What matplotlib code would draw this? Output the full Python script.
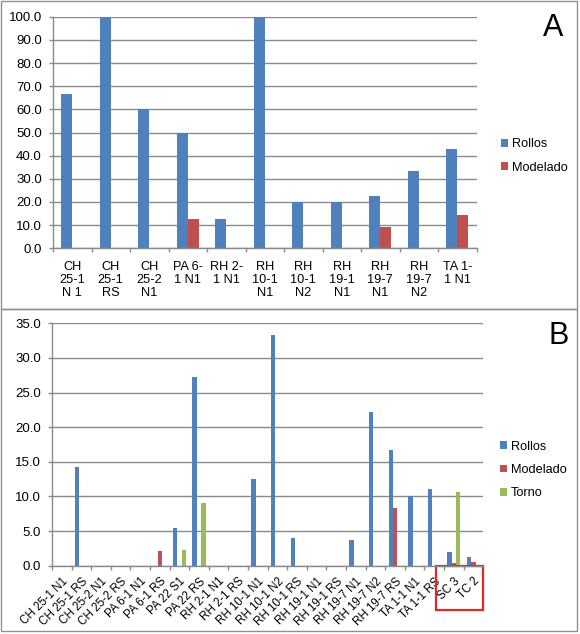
import numpy as np
import matplotlib
matplotlib.use("Agg")
import matplotlib.pyplot as plt
from matplotlib.patches import Rectangle
from matplotlib.transforms import blended_transform_factory

plt.rcParams['font.family'] = ['Liberation Sans', 'DejaVu Sans']

# panel A data
labels_a = ["CH\n25-1\nN 1", "CH\n25-1\nRS", "CH\n25-2\nN1", "PA 6-\n1 N1", "RH 2-\n1 N1",
            "RH\n10-1\nN1", "RH\n10-1\nN2", "RH\n19-1\nN1", "RH\n19-7\nN1", "RH\n19-7\nN2",
            "TA 1-\n1 N1"]
rollos_a = [66.7, 100.0, 60.0, 50.0, 12.5, 100.0, 20.0, 20.0, 22.7, 33.3, 42.9]
modelado_a = [0, 0, 0, 12.5, 0, 0, 0, 0, 9.0, 0, 14.3]

# panel B data
labels_b = ["CH 25-1 N1", "CH 25-1 RS", "CH 25-2 N1", "CH 25-2 RS", "PA 6-1 N1", "PA 6-1 RS",
            "PA 22 S1", "PA 22 RS", "RH 2-1 N1", "RH 2-1 RS", "RH 10-1 N1", "RH 10-1 N2",
            "RH 10-1 RS", "RH 19-1 N1", "RH 19-1 RS", "RH 19-7 N1", "RH 19-7 N2", "RH 19-7 RS",
            "TA 1-1 N1", "TA 1-1 RS", "SC 3", "TC 2"]
rollos_b = [0, 14.3, 0, 0, 0, 0, 5.4, 27.3, 0, 0, 12.5, 33.3,
            4.0, 0, 0, 3.7, 22.2, 16.7, 10.0, 11.1, 2.0, 1.3]
modelado_b = [0, 0, 0, 0, 0, 2.1, 0, 0, 0, 0, 0, 0,
              0, 0, 0, 0, 0, 8.3, 0, 0, 0.4, 0.5]
torno_b = [0, 0, 0, 0, 0, 0, 2.3, 9.1, 0, 0, 0, 0,
           0, 0, 0, 0, 0, 0, 0, 0, 10.7, 0]

BLUE = '#4F81BD'
RED = '#C0504D'
GREEN = '#9BBB59'
GRID = '#8a8a8a'

W, H = 580, 634
fig = plt.figure(figsize=(W / 100, H / 100), dpi=100)


def px_axes(left, top, right, bottom):
    return fig.add_axes([left / W, 1 - bottom / H, (right - left) / W, (bottom - top) / H])


def style_axes(ax):
    for s in ['top', 'right']:
        ax.spines[s].set_visible(False)
    for s in ['left', 'bottom']:
        ax.spines[s].set_color(GRID)
        ax.spines[s].set_linewidth(1.0)
    ax.yaxis.grid(True, color=GRID, linewidth=1.0)
    ax.set_axisbelow(True)
    ax.tick_params(axis='both', direction='out', length=3, width=1, color=GRID,
                   labelsize=9.5, labelcolor='black')
    ax.tick_params(axis='y', pad=5)


# ---- panel A ----
ax1 = px_axes(53, 16.7, 476.5, 248.3)
style_axes(ax1)
x = np.arange(len(labels_a))
w = 1 / 3.5
ax1.bar(x - w / 2, rollos_a, w, color=BLUE, label='Rollos')
ax1.bar(x + w / 2, modelado_a, w, color=RED, label='Modelado')
ax1.set_xlim(-0.5, len(labels_a) - 0.5)
ax1.set_ylim(0, 100)
ax1.set_yticks(np.arange(0, 101, 10))
ax1.set_yticklabels(['%.1f' % v for v in np.arange(0, 101, 10)])
ax1.set_xticks(np.arange(-0.5, len(labels_a), 1))
ax1.set_xticklabels([])
ax1.set_xticks(x, minor=True)
ax1.set_xticklabels(labels_a, minor=True, fontsize=9.2, linespacing=1.1)
ax1.tick_params(axis='x', which='minor', length=0, pad=9)
ax1.legend(loc='center left', bbox_to_anchor=(496 / W, 1 - 156 / H), bbox_transform=fig.transFigure,
           frameon=False, fontsize=9.2, handlelength=0.55, handleheight=0.55, handletextpad=0.3,
           labelspacing=0.9, borderaxespad=0)

# ---- panel B ----
ax2 = px_axes(52, 323.3, 483.3, 565.7)
style_axes(ax2)
xb = np.arange(len(labels_b))
wb = 1 / 4.5
ax2.bar(xb - wb, rollos_b, wb, color=BLUE, label='Rollos')
ax2.bar(xb, modelado_b, wb, color=RED, label='Modelado')
ax2.bar(xb + wb, torno_b, wb, color=GREEN, label='Torno')
ax2.set_xlim(-0.5, len(labels_b) - 0.5)
ax2.set_ylim(0, 35)
ax2.set_yticks(np.arange(0, 36, 5))
ax2.set_yticklabels(['%.1f' % v for v in np.arange(0, 36, 5)])
ax2.set_xticks(np.arange(-0.5, len(labels_b), 1))
ax2.set_xticklabels([])
ax2.set_xticks(xb, minor=True)
ax2.set_xticklabels(labels_b, minor=True, fontsize=8.3, rotation=45, ha='right',
                    rotation_mode='anchor')
ax2.tick_params(axis='x', which='minor', length=0, pad=7)
ax2.legend(loc='center left', bbox_to_anchor=(495 / W, 1 - 470 / H), bbox_transform=fig.transFigure,
           frameon=False, fontsize=9.2, handlelength=0.55, handleheight=0.55, handletextpad=0.3,
           labelspacing=0.9, borderaxespad=0)

# red highlight box around SC 3 / TC 2
trans = blended_transform_factory(ax2.transData, ax2.transAxes)
ax2.add_patch(Rectangle((19.08, -0.183), 21.5 - 19.08, 0.183, transform=trans,
                        fill=False, edgecolor='#E02828', linewidth=1.6, clip_on=False))

# panel letters
fig.text(553 / W, 1 - 28 / H, 'A', fontsize=22, ha='center', va='center')
fig.text(559 / W, 1 - 336 / H, 'B', fontsize=22, ha='center', va='center')

# panel frames
fig.patches.append(Rectangle((1 / W, 1 - 309 / H), 576 / W, 308 / H, transform=fig.transFigure,
                             fill=False, edgecolor='#909090', linewidth=1.0))
fig.patches.append(Rectangle((1 / W, 1 - 631 / H), 576 / W, 322 / H, transform=fig.transFigure,
                             fill=False, edgecolor='#909090', linewidth=1.0))

fig.savefig('out.png', dpi=100)
